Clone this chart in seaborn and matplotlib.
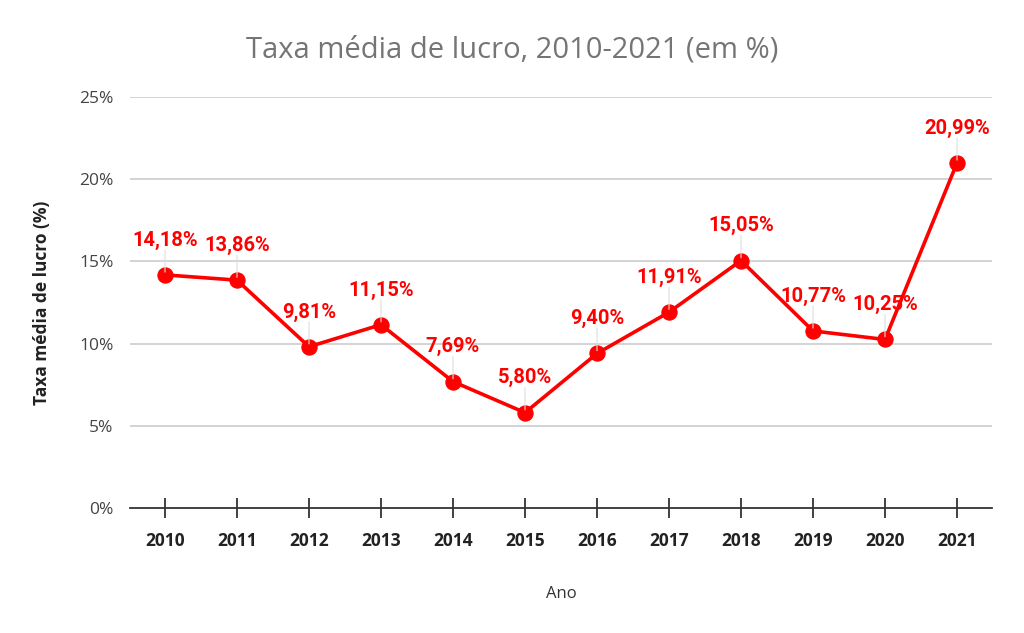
import matplotlib
matplotlib.use("Agg")
import matplotlib.pyplot as plt
import seaborn as sns
import pandas as pd

anos = [2010, 2011, 2012, 2013, 2014, 2015, 2016, 2017, 2018, 2019, 2020, 2021]
taxa = [14.18, 13.86, 9.81, 11.15, 7.69, 5.80, 9.40, 11.91, 15.05, 10.77, 10.25, 20.99]
yticks = [0, 5, 10, 15, 20, 25]

sns.set_theme(style="white")
plt.rcParams['font.family'] = ['Open Sans', 'DejaVu Sans']

df = pd.DataFrame({"Ano": anos, "Taxa": taxa})

fig = plt.figure(figsize=(10.24, 6.33), dpi=100)
ax = fig.add_axes([130/1024, 1-508/633, (992-130)/1024, (508-97)/633])

red = "#ff0000"
sns.lineplot(data=df, x="Ano", y="Taxa", ax=ax, color=red, linewidth=2.6,
             marker="o", markersize=11, markeredgecolor=red, markerfacecolor=red)

ax.set_xlim(2010 - 35/72, 2021 + 35/72)
ax.set_ylim(0, 25)
ax.set_yticks(yticks)
ax.set_yticklabels([f"{v}%" for v in yticks], color="#444444", fontsize=12.5)
for v in yticks[1:]:
    ax.axhline(v, color="#cccccc", linewidth=1.2, zorder=0)
ax.set_xticks(anos)
ax.set_xticklabels([str(a) for a in anos], fontweight="bold", fontsize=12.5, color="#222222")
ax.tick_params(axis="x", direction="inout", length=14, width=1.3, color="#333333", pad=10, bottom=True)
ax.tick_params(axis="y", length=0, pad=12)

for s in ["top", "right", "left"]:
    ax.spines[s].set_visible(False)
ax.spines["bottom"].set_color("#333333")
ax.spines["bottom"].set_linewidth(1.3)

for a, t in zip(anos, taxa):
    ax.annotate("", xy=(a, t), xytext=(0, 20), textcoords="offset points",
                arrowprops=dict(arrowstyle="-", color="#dddddd", lw=0.8))
    ax.annotate(f"{t:.2f}%".replace(".", ","), xy=(a, t), xytext=(0, 25),
                textcoords="offset points", ha="center", va="center",
                color=red, fontweight="bold", fontsize=14.5, family=["Roboto", "DejaVu Sans"])

ax.set_xlabel("Ano", fontsize=12, color="#333333", labelpad=26)
ax.set_ylabel("Taxa média de lucro (%)", fontsize=12.5, fontweight="bold", color="#222222", labelpad=20)
fig.text(0.5, 1-50/633, "Taxa média de lucro, 2010-2021 (em %)", ha="center", va="center",
         fontsize=21, color="#757575")

fig.savefig("out.png", dpi=100)
